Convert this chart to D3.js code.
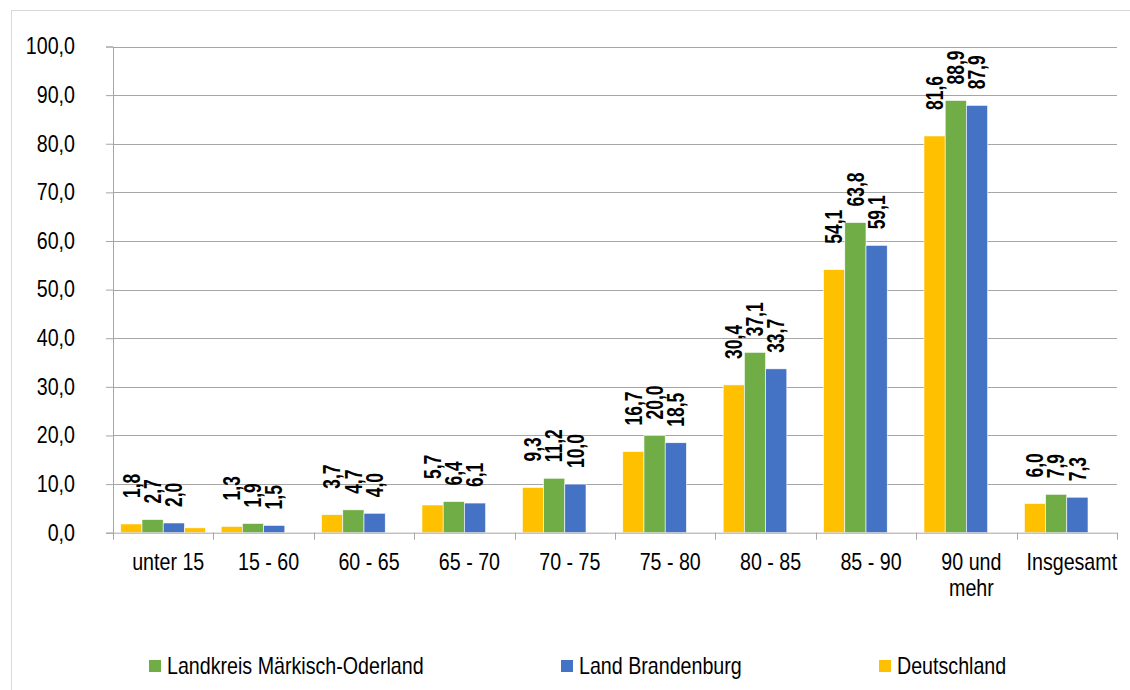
<!DOCTYPE html>
<html>
<head>
<meta charset="utf-8">
<script src="https://cdn.jsdelivr.net/npm/d3@7"></script>
<style>
  body { margin: 0; background: #fff; }
  svg text { font-family: "Liberation Sans", Arial, sans-serif; }
</style>
</head>
<body>
<div id="chart"></div>
<script>
// Altersgruppen
const categories = ["unter 15", "15 - 60", "60 - 65", "65 - 70", "70 - 75", "75 - 80", "80 - 85", "85 - 90", "90 und mehr", "Insgesamt"];

const deutschland = [1.8, 1.3, 3.7, 5.7, 9.3, 16.7, 30.4, 54.1, 81.6, 6.0];
const landkreis   = [2.7, 1.9, 4.7, 6.4, 11.2, 20.0, 37.1, 63.8, 88.9, 7.9];
const brandenburg = [2.0, 1.5, 4.0, 6.1, 10.0, 18.5, 33.7, 59.1, 87.9, 7.3];
// unbeschrifteter Zusatzbalken (nur in der ersten Gruppe)
const extraBar    = [1.0, null, null, null, null, null, null, null, null, null];

const yTicks = [0, 10, 20, 30, 40, 50, 60, 70, 80, 90, 100];

const series = [
    { key: "de", name: "Deutschland", values: deutschland, color: "#FFC000", label: true, gap: 26 },
    { key: "lk", name: "Landkreis Märkisch-Oderland", values: landkreis, color: "#70AD47", label: true, gap: 16 },
    { key: "bb", name: "Land Brandenburg", values: brandenburg, color: "#4472C4", label: true, gap: 16 },
    { key: "x", name: "", values: extraBar, color: "#FFC000", label: false, gap: 0 }
];

const legendItems = [
    { name: "Landkreis Märkisch-Oderland", color: "#70AD47", x: 149 },
    { name: "Land Brandenburg", color: "#4472C4", x: 561 },
    { name: "Deutschland", color: "#FFC000", x: 879 }
];

const WIDTH = 1130, HEIGHT = 690;
const NARROW = 0.855;     // the original uses a condensed face
const NARROW_BOLD = 0.76;
const fmt = v => d3.format(".1f")(v).replace(".", ",");

const svg = d3.select("#chart").append("svg")
    .attr("width", WIDTH)
    .attr("height", HEIGHT);

// chart frame
svg.append("rect")
    .attr("x", 11.5).attr("y", 10.5)
    .attr("width", 1130).attr("height", 700)
    .attr("fill", "none")
    .attr("stroke", "#d9d9d9");

const x0 = d3.scaleBand()
    .domain(categories)
    .range([113, 1117])
    .paddingInner(0.155)
    .paddingOuter(0.0775);

const x1 = d3.scaleBand()
    .domain(series.map(s => s.key))
    .range([0, x0.bandwidth()]);

const y = d3.scaleLinear().domain([0, 100]).range([532.7, 46.5]);

// gridlines
svg.append("g")
    .selectAll("line")
    .data(yTicks.filter(d => d > 0))
    .join("line")
    .attr("x1", 113).attr("x2", 1117)
    .attr("y1", d => Math.round(y(d)) + 0.5)
    .attr("y2", d => Math.round(y(d)) + 0.5)
    .attr("stroke", "#a6a6a6");

// y axis
const yAxis = svg.append("g")
    .attr("transform", "translate(113,0)")
    .call(d3.axisLeft(y).tickValues(yTicks).tickSize(7).tickFormat(fmt));
yAxis.select(".domain").attr("stroke", "#a6a6a6");
yAxis.selectAll(".tick line").attr("stroke", "#a6a6a6");
yAxis.selectAll(".tick text")
    .attr("x", 0)
    .attr("transform", `translate(-38,0) scale(${NARROW},1)`)
    .attr("fill", "#000")
    .style("font-size", "23px");

// bars
const groups = svg.append("g")
    .selectAll("g")
    .data(categories)
    .join("g")
    .attr("transform", d => `translate(${x0(d)},0)`);

groups.selectAll("rect")
    .data((d, i) => series.filter(s => s.values[i] != null).map(s => ({ s, v: s.values[i] })))
    .join("rect")
    .attr("x", d => x1(d.s.key))
    .attr("y", d => y(d.v))
    .attr("width", x1.bandwidth())
    .attr("height", d => y(0) - y(d.v))
    .attr("fill", d => d.s.color)
    .attr("stroke", "#fff")
    .attr("stroke-width", 0.6);

// data labels
groups.selectAll("text")
    .data((d, i) => series.filter(s => s.label && s.values[i] != null).map(s => ({ s, v: s.values[i] })))
    .join("text")
    .attr("transform", d => `translate(${x1(d.s.key) + x1.bandwidth() / 2},${y(d.v) - d.s.gap}) rotate(-90) scale(${NARROW_BOLD},1)`)
    .attr("dy", "0.36em")
    .attr("text-anchor", "start")
    .style("font-size", "23px")
    .style("font-weight", "bold")
    .text(d => fmt(d.v));

// x axis
const xAxis = svg.append("g")
    .attr("transform", `translate(0,${y(0)})`)
    .call(d3.axisBottom(x0).tickSize(0).tickFormat(""));
xAxis.select(".domain").attr("stroke", "#a6a6a6");

const boundaries = d3.range(categories.length + 1).map(i => 113 + i * x0.step());
svg.append("g")
    .selectAll("line")
    .data(boundaries)
    .join("line")
    .attr("x1", d => Math.round(d) + 0.5).attr("x2", d => Math.round(d) + 0.5)
    .attr("y1", y(0)).attr("y2", y(0) + 7)
    .attr("stroke", "#a6a6a6");

// category labels, wrapped if too wide
const catLabels = svg.append("g")
    .selectAll("text")
    .data(categories)
    .join("text")
    .attr("transform", d => `translate(${x0(d) + x0.bandwidth() / 2 + 5},570) scale(${NARROW},1)`)
    .attr("text-anchor", "middle")
    .style("font-size", "23px");

catLabels.each(function(d) {
    const t = d3.select(this);
    const words = d.split(" ");
    let line = [];
    let tspan = t.append("tspan").attr("x", 0).attr("dy", 0);
    words.forEach(w => {
        line.push(w);
        tspan.text(line.join(" "));
        if (tspan.node().getComputedTextLength() * NARROW > 82 && line.length > 1) {
            line.pop();
            tspan.text(line.join("  "));
            line = [w];
            tspan = t.append("tspan").attr("x", 0).attr("dy", "26.5px").text(w);
        }
    });
});

// legend
const legend = svg.append("g")
    .selectAll("g")
    .data(legendItems)
    .join("g")
    .attr("transform", d => `translate(${d.x},660)`);

legend.append("rect")
    .attr("width", 12).attr("height", 12)
    .attr("fill", d => d.color);

legend.append("text")
    .attr("transform", `translate(18,13.5) scale(${NARROW},1)`)
    .style("font-size", "23px")
    .text(d => d.name);
</script>
</body>
</html>
